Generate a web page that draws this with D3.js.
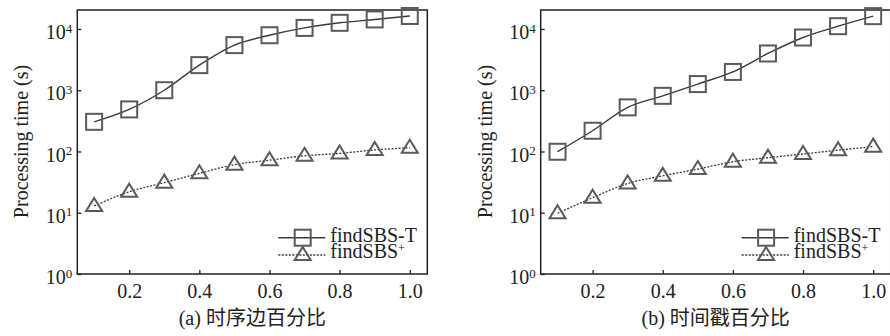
<!DOCTYPE html>
<html>
<head>
<meta charset="utf-8">
<script src="https://cdn.jsdelivr.net/npm/d3@7"></script>
<style>
  body { margin: 0; background: #fff; }
  svg { display: block; }
  text { font-family: "Liberation Serif", "Times New Roman", "Noto Sans CJK SC", serif; fill: #222; }
</style>
</head>
<body>
<script>
// ratios on the x axis
var ratios = [0.1, 0.2, 0.3, 0.4, 0.5, 0.6, 0.7, 0.8, 0.9, 1.0]

// (a) 时序边百分比
var edgeTimeT    = [305, 486, 1000, 2570, 5450, 7900, 10400, 12600, 14300, 16300]
var edgeTimePlus = [12.9, 22, 31, 44, 61, 72, 85, 93, 106, 115]

// (b) 时间戳百分比
var stampTimeT    = [99, 218, 525, 810, 1260, 1990, 3980, 7250, 11100, 16200]
var stampTimePlus = [9.8, 17.6, 30, 40, 51.6, 68, 79, 91, 105, 120]

var xTicks = [0.2, 0.4, 0.6, 0.8, 1.0]
var yTicks = [1, 10, 100, 1000, 10000]
var captions = ["(a) 时序边百分比", "(b) 时间戳百分比"]
var seriesNames = ["findSBS-T", "findSBS"]

;(function () {

var width = 890,
    height = 336,
    plotW = 350,
    plotH = 264,
    marginTop = 10

var svg = d3.select("body")
  .append("svg")
  .attr("width", width)
  .attr("height", height)

var xScale = d3.scaleLinear().domain([0.052, 1.05]).range([0, plotW])
var yScale = d3.scaleLog().domain([1, 20400]).range([plotH, 0])

var trianglePath = "M0,-8L8,5L-8,5Z"

function drawPanel(left, caption, timeT, timePlus) {
  var g = svg.append("g")
    .attr("transform", "translate(" + left + " " + marginTop + ")")

  var rowsT = ratios.map(function(r, i) { return { x: r, y: timeT[i] } })
  var rowsP = ratios.map(function(r, i) { return { x: r, y: timePlus[i] } })

  var line = d3.line()
    .x(function(d) { return xScale(d.x) })
    .y(function(d) { return yScale(d.y) })
    .curve(d3.curveMonotoneX)

  // frame
  g.append("rect")
    .attr("width", plotW)
    .attr("height", plotH)
    .attr("fill", "none")
    .attr("stroke", "#222")
    .attr("stroke-width", 1.5)

  var xAxis = g.append("g")
    .attr("transform", "translate(0 " + plotH + ")")
    .call(d3.axisBottom(xScale).tickValues(xTicks).tickSize(-4).tickSizeOuter(0)
      .tickFormat(d3.format(".1f")))
  xAxis.select(".domain").remove()
  xAxis.selectAll(".tick line").attr("stroke", "#222").attr("stroke-width", 1.3)
  xAxis.selectAll(".tick text")
    .attr("font-size", 20)
    .attr("y", 24)
    .attr("dy", 0)
    .attr("fill", "#222")

  var yAxis = g.append("g")
    .call(d3.axisLeft(yScale).tickValues(yTicks).tickSize(-4).tickSizeOuter(0)
      .tickPadding(5).tickFormat(""))
  yAxis.select(".domain").remove()
  yAxis.selectAll(".tick line").attr("stroke", "#222").attr("stroke-width", 1.3)
  yAxis.selectAll(".tick text")
    .attr("font-size", 20)
    .attr("dy", "0.48em")
    .attr("fill", "#222")
    .text("10")
    .append("tspan")
    .attr("dy", "-0.5em")
    .attr("font-size", 13)
    .text(function(d) { return Math.round(Math.log10(d)) })

  g.append("text")
    .attr("transform", "translate(-56 131.5) rotate(-90)")
    .attr("text-anchor", "middle")
    .attr("dominant-baseline", "central")
    .attr("font-size", 20)
    .text("Processing time (s)")

  g.append("text")
    .attr("x", plotW / 2)
    .attr("y", 315)
    .attr("text-anchor", "middle")
    .attr("font-size", 20)
    .text(caption)

  // lines
  g.append("path")
    .datum(rowsT)
    .attr("d", line)
    .attr("fill", "none")
    .attr("stroke", "#3a3a3a")
    .attr("stroke-width", 1.4)

  g.append("path")
    .datum(rowsP)
    .attr("d", line)
    .attr("fill", "none")
    .attr("stroke", "#3a3a3a")
    .attr("stroke-width", 1.3)
    .attr("stroke-dasharray", "2,1.5")

  // markers
  g.selectAll(".sq")
    .data(rowsT)
    .enter().append("rect")
    .attr("class", "sq")
    .attr("x", function(d) { return xScale(d.x) - 8 })
    .attr("y", function(d) { return yScale(d.y) - 8 })
    .attr("width", 16)
    .attr("height", 16)
    .attr("fill", "none")
    .attr("stroke", "#5a5a5a")
    .attr("stroke-width", 2)

  g.selectAll(".tri")
    .data(rowsP)
    .enter().append("path")
    .attr("class", "tri")
    .attr("d", trianglePath)
    .attr("transform", function(d) { return "translate(" + xScale(d.x) + " " + yScale(d.y) + ")" })
    .attr("fill", "none")
    .attr("stroke", "#5a5a5a")
    .attr("stroke-width", 2)

  // legend
  var lg = g.append("g").attr("transform", "translate(201 0)")
  lg.append("line")
    .attr("x1", 0).attr("x2", 47)
    .attr("y1", 227.7).attr("y2", 227.7)
    .attr("stroke", "#3a3a3a").attr("stroke-width", 1.4)
  lg.append("rect")
    .attr("x", 24.4 - 8).attr("y", 227.7 - 8)
    .attr("width", 16).attr("height", 16)
    .attr("fill", "none").attr("stroke", "#5a5a5a").attr("stroke-width", 2)
  lg.append("text")
    .attr("x", 52).attr("y", 231.5)
    .attr("font-size", 20)
    .text(seriesNames[0])

  lg.append("line")
    .attr("x1", 0).attr("x2", 47)
    .attr("y1", 245).attr("y2", 245)
    .attr("stroke", "#3a3a3a").attr("stroke-width", 1.3)
    .attr("stroke-dasharray", "2,1.5")
  lg.append("path")
    .attr("d", trianglePath)
    .attr("transform", "translate(24.4 245)")
    .attr("fill", "none").attr("stroke", "#5a5a5a").attr("stroke-width", 2)
  var t2 = lg.append("text")
    .attr("x", 52).attr("y", 248)
    .attr("font-size", 20)
    .text(seriesNames[1])
  t2.append("tspan")
    .attr("dy", "-0.5em")
    .attr("font-size", 12)
    .text("+")
}

drawPanel(77.3, captions[0], edgeTimeT, edgeTimePlus)
drawPanel(540.7, captions[1], stampTimeT, stampTimePlus)

}())
</script>
</body>
</html>
